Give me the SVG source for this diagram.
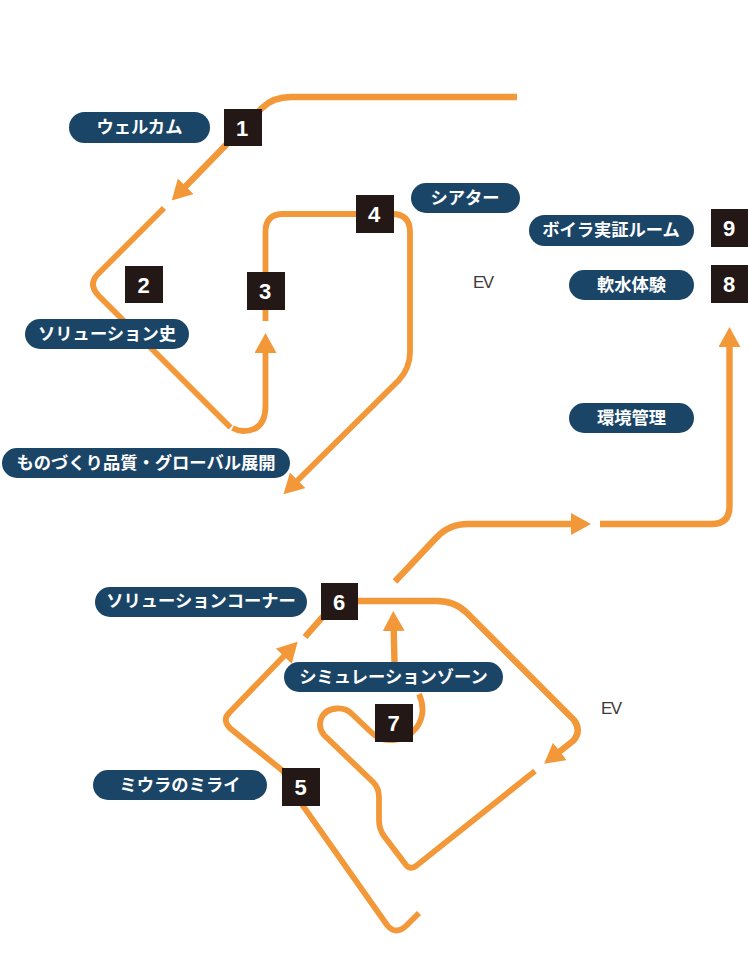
<svg xmlns="http://www.w3.org/2000/svg" width="748" height="968" viewBox="0 0 748 968">
<style>
.c{fill:none;stroke:#f39839;stroke-width:6.400}
.t{stroke-width:5.800}
.p{fill:#1b4567}
.l{font:700 17.300px "Noto Sans CJK JP","Noto Sans",sans-serif;fill:#fff;text-anchor:middle}
.b{fill:#231815}
.n{font:700 22px "Liberation Sans",Arial,sans-serif;fill:#fff;text-anchor:middle}
.e{font:400 17px "Liberation Sans",Arial,sans-serif;fill:#3e3a39;letter-spacing:-1.6px}
</style>
<defs>
<marker id="a" markerUnits="userSpaceOnUse" markerWidth="20" markerHeight="22" viewBox="0 0 20 22" refX="1" refY="11" orient="auto"><path d="M0 0L20 11L0 22z" fill="#f39839"/></marker>
</defs>
<rect width="748" height="968" fill="#fff"/>
<g id="connectors">
<path class="c" marker-end="url(#a)" d="M517 97H291Q273 97 262 108L185 187"/>
<path class="c t" d="M164 208L98 274Q88 284 98 295L230.500 427.500"/>
<path class="c t" marker-end="url(#a)" d="M232.500 428Q238 431 243 431Q265.500 431 265.500 406V352"/>
<path class="c t" marker-end="url(#a)" d="M265.500 321V232Q265.500 214 283 214H392Q410 214 410 232V352Q410 368 399 380L297 481"/>
<path class="c" marker-end="url(#a)" d="M395 581.500L436 538Q449 524 468 524H572"/>
<path class="c" marker-end="url(#a)" d="M600 524H712Q729.500 524 729.500 506V346"/>
<path class="c" marker-end="url(#a)" d="M358 601H437Q455 601 467 613L574 720Q582 731 573 741L559 752"/>
<path class="c" marker-end="url(#a)" d="M394.500 662L393.700 630"/>
<path class="c t" d="M535 771L416 866Q410 870 406 865L384 836Q379 829 379 820V797Q379 788 373 782L324 735Q318 728 321 719Q325 709 337 708.500Q346 708 352 714L372 733Q380 741 393 740Q408 739 417 727Q427 712 419 694"/>
<path class="c t" marker-end="url(#a)" d="M419 913L407 925Q396 936 387 925L303 806L290 783L283 771L231 729Q221 720 230 712L284.500 655.500"/>
<path class="c" d="M326 613L305 637"/>
</g>
<g id="pill-welcome"><rect class="p" x="69" y="112" width="141" height="31" rx="15.500"/><text class="l" x="139.500" y="133">ウェルカム</text></g>
<g id="pill-solution-history"><rect class="p" x="25" y="319" width="164" height="30" rx="15"/><text class="l" x="107" y="340">ソリューション史</text></g>
<g id="pill-monozukuri"><rect class="p" x="2" y="448" width="288" height="30" rx="15"/><text class="l" x="146" y="469">ものづくり品質・グローバル展開</text></g>
<g id="pill-theater"><rect class="p" x="411" y="183" width="109" height="30" rx="15"/><text class="l" x="465" y="204">シアター</text></g>
<g id="pill-boiler"><rect class="p" x="529" y="215" width="165" height="31" rx="15.500"/><text class="l" x="611" y="236">ボイラ実証ルーム</text></g>
<g id="pill-softwater"><rect class="p" x="569" y="270" width="125" height="30" rx="15"/><text class="l" x="631.500" y="291">軟水体験</text></g>
<g id="pill-environment"><rect class="p" x="569" y="403" width="125" height="30" rx="15"/><text class="l" x="631.500" y="424">環境管理</text></g>
<g id="pill-solution-corner"><rect class="p" x="95" y="587" width="212" height="30" rx="15"/><text class="l" x="201" y="607">ソリューションコーナー</text></g>
<g id="pill-simulation"><rect class="p" x="284" y="662" width="219" height="30" rx="15"/><text class="l" x="393.500" y="683">シミュレーションゾーン</text></g>
<g id="pill-miura"><rect class="p" x="93" y="770" width="174" height="30" rx="15"/><text class="l" x="180" y="791">ミウラのミライ</text></g>
<g id="node-1"><rect class="b" x="224" y="109" width="38" height="37"/><text class="n" x="242" y="135.500">1</text></g>
<g id="node-2"><rect class="b" x="125" y="266" width="38" height="37"/><text class="n" x="143.500" y="292.500">2</text></g>
<g id="node-3"><rect class="b" x="247" y="272" width="38" height="38"/><text class="n" x="265" y="299">3</text></g>
<g id="node-4"><rect class="b" x="356" y="195" width="38" height="38"/><text class="n" x="374" y="222">4</text></g>
<g id="node-5"><rect class="b" x="282" y="768" width="38" height="38"/><text class="n" x="300.500" y="795">5</text></g>
<g id="node-6"><rect class="b" x="321" y="583" width="37" height="37"/><text class="n" x="339" y="609.500">6</text></g>
<g id="node-7"><rect class="b" x="375" y="704" width="38" height="38"/><text class="n" x="393.500" y="731">7</text></g>
<g id="node-8"><rect class="b" x="711" y="265" width="37" height="38"/><text class="n" x="729" y="292">8</text></g>
<g id="node-9"><rect class="b" x="711" y="209" width="37" height="38"/><text class="n" x="729" y="236">9</text></g>
<g id="ev-labels"><text class="e" x="473" y="288">EV</text><text class="e" x="601" y="714">EV</text></g>
</svg>
